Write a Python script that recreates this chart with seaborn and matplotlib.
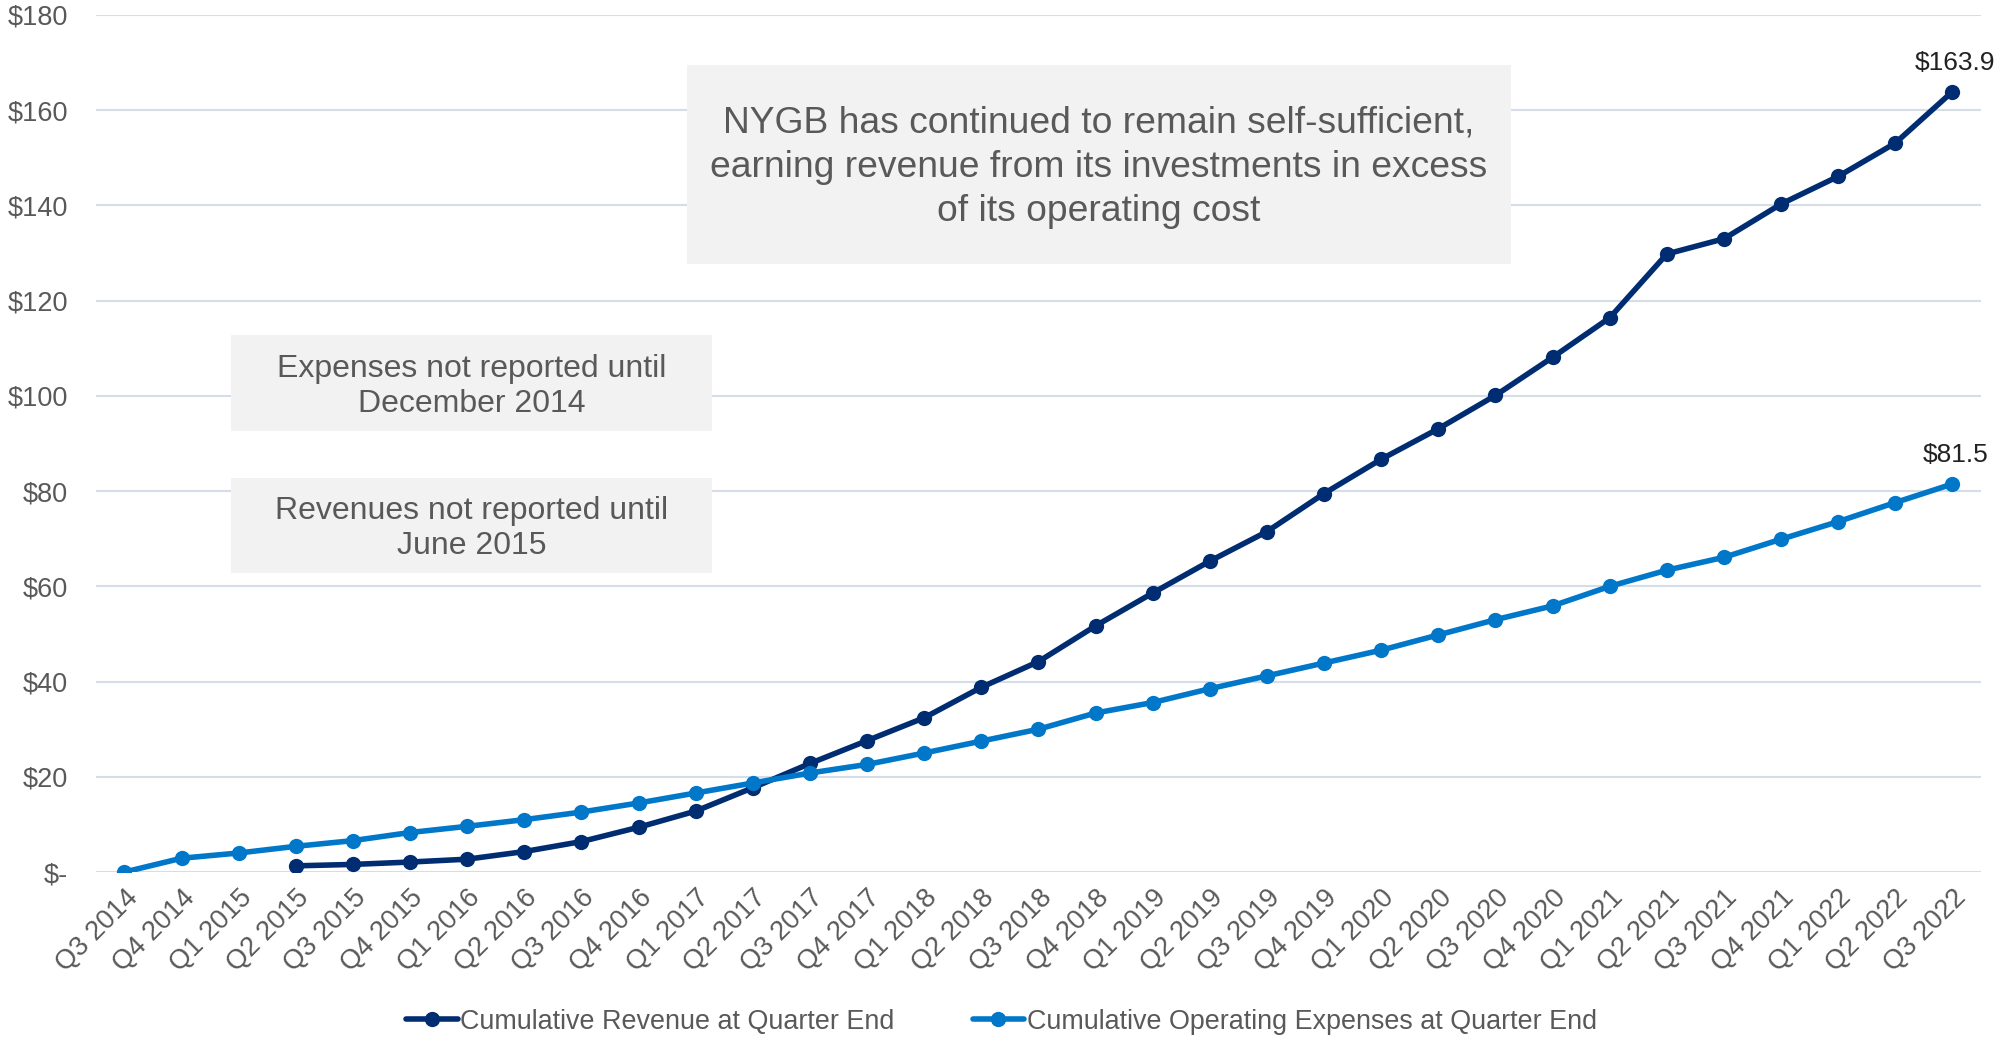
import numpy as np
import pandas as pd
import matplotlib
matplotlib.use("Agg")
import matplotlib.pyplot as plt
import seaborn as sns

# ── data ──────────────────────────────────────────────────────────────────────

quarters = [
    "Q3 2014", "Q4 2014", "Q1 2015", "Q2 2015", "Q3 2015", "Q4 2015",
    "Q1 2016", "Q2 2016", "Q3 2016", "Q4 2016", "Q1 2017", "Q2 2017",
    "Q3 2017", "Q4 2017", "Q1 2018", "Q2 2018", "Q3 2018", "Q4 2018",
    "Q1 2019", "Q2 2019", "Q3 2019", "Q4 2019", "Q1 2020", "Q2 2020",
    "Q3 2020", "Q4 2020", "Q1 2021", "Q2 2021", "Q3 2021", "Q4 2021",
    "Q1 2022", "Q2 2022", "Q3 2022",
]

# revenue not reported until Q2 2015
revenue = [
    np.nan, np.nan, np.nan, 1.3, 1.6, 2.1,
    2.7, 4.3, 6.4, 9.4, 12.8, 17.7,
    22.8, 27.6, 32.4, 38.8, 44.2, 51.7,
    58.6, 65.3, 71.5, 79.5, 86.7, 93.1,
    100.1, 108.1, 116.4, 129.8, 133.0, 140.3,
    146.1, 153.1, 163.9,
]

expenses = [
    0.0, 2.9, 4.0, 5.4, 6.6, 8.3,
    9.6, 11.0, 12.6, 14.5, 16.6, 18.7,
    20.8, 22.6, 25.0, 27.5, 30.0, 33.4,
    35.6, 38.5, 41.2, 43.9, 46.6, 49.8,
    53.0, 55.9, 60.0, 63.4, 66.1, 69.9,
    73.6, 77.6, 81.5,
]

REV_NAME = "Cumulative Revenue at Quarter End"
EXP_NAME = "Cumulative Operating Expenses at Quarter End"

yticks = [0, 20, 40, 60, 80, 100, 120, 140, 160, 180]

# ── long-form table ───────────────────────────────────────────────────────────

pos = np.arange(len(quarters))
df = pd.concat([
    pd.DataFrame({"pos": pos, "value": revenue, "series": REV_NAME}),
    pd.DataFrame({"pos": pos, "value": expenses, "series": EXP_NAME}),
]).dropna(subset=["value"])

# ── style ─────────────────────────────────────────────────────────────────────

sns.set_style("white")
plt.rcParams["font.family"] = ["Liberation Sans", "DejaVu Sans"]

NAVY = "#002D72"
BLUE = "#0077C8"
GRID = "#D5DEE8"
GREY = "#595959"
BOX = "#F2F2F2"

fig = plt.figure(figsize=(19.98, 10.40), dpi=100)
ax = fig.add_axes([0.048, 0.1615, 0.9435, 0.8241])

sns.lineplot(data=df, x="pos", y="value", hue="series",
             hue_order=[REV_NAME, EXP_NAME],
             palette={REV_NAME: NAVY, EXP_NAME: BLUE},
             marker="o", markersize=11, markeredgewidth=0,
             linewidth=4, ax=ax, legend=True)

ax.set_xlim(-0.5, len(quarters) - 0.5)
ax.set_ylim(0, 180)
ax.set_yticks(yticks)
ax.set_yticklabels(["$-" if v == 0 else f"${v}" for v in yticks])
ax.set_xticks(pos)
ax.set_xticklabels(quarters, rotation=45, ha="right", rotation_mode="anchor")
ax.tick_params(axis="both", labelsize=19.5, colors=GREY, length=0)
ax.tick_params(axis="x", pad=9)
ax.tick_params(axis="y", pad=20)
ax.set_xlabel("")
ax.set_ylabel("")
ax.grid(axis="y", color=GRID, linewidth=1.5)
ax.set_axisbelow(True)
for s in ax.spines.values():
    s.set_visible(False)

# end-point value labels
ax.annotate(f"${revenue[-1]:.1f}", (pos[-1], revenue[-1]), xytext=(2, 12),
            textcoords="offset points", ha="center", va="bottom",
            fontsize=19, color="#222222")
ax.annotate(f"${expenses[-1]:.1f}", (pos[-1], expenses[-1]), xytext=(2, 12),
            textcoords="offset points", ha="center", va="bottom",
            fontsize=19, color="#222222")

# callout boxes (figure pixel coordinates)
def callout(x0, y0, x1, y1, text, size, spacing):
    fig.patches.append(plt.Rectangle((x0 / 1998, 1 - y1 / 1040),
                                     (x1 - x0) / 1998, (y1 - y0) / 1040,
                                     transform=fig.transFigure,
                                     facecolor=BOX, edgecolor="none", zorder=3))
    fig.text((x0 + x1) / 2 / 1998, 1 - (y0 + y1) / 2 / 1040 - 0.003, text,
             ha="center", va="center", fontsize=size, color=GREY,
             linespacing=spacing, zorder=4)

callout(687, 65, 1511, 264,
        "NYGB has continued to remain self-sufficient,\n"
        "earning revenue from its investments in excess\n"
        "of its operating cost", 26.8, 1.34)
callout(231, 335, 712, 431, "Expenses not reported until\nDecember 2014", 23, 1.22)
callout(231, 478, 712, 573, "Revenues not reported until\nJune 2015", 23, 1.22)

# legend at the bottom
handles, labels = ax.get_legend_handles_labels()
ax.legend(handles, labels, loc="center", bbox_to_anchor=(0.4805, -0.1745),
          ncol=2, frameon=False, fontsize=19.4, labelcolor=GREY,
          handlelength=1.9, handletextpad=0.1, columnspacing=2.9)

fig.savefig("out.png", dpi=100)
